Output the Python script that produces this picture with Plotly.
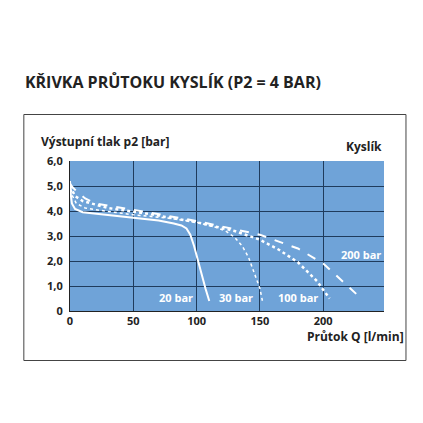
import plotly.graph_objects as go

q20 = [0, 0.5, 1.5, 4, 10, 30, 50, 70, 82, 88, 92, 95, 98, 101, 104, 107, 110]
p20 = [5.2, 4.7, 4.3, 4.08, 3.95, 3.85, 3.75, 3.62, 3.5, 3.42, 3.3, 3.05, 2.6, 2.0, 1.4, 0.9, 0.4]
q30 = [0, 2, 5, 12, 20, 50, 80, 100, 115, 123, 130, 136, 141, 146, 150, 152]
p30 = [5.1, 4.6, 4.3, 4.12, 4.05, 3.85, 3.7, 3.55, 3.35, 3.2, 2.95, 2.6, 2.15, 1.5, 0.9, 0.4]
q100 = [0, 4, 10, 30, 60, 100, 130, 150, 165, 180, 195, 205]
p100 = [5.0, 4.6, 4.4, 4.12, 3.9, 3.55, 3.2, 2.85, 2.45, 1.95, 1.2, 0.5]
q200 = [0, 2, 5, 12, 20, 50, 100, 150, 180, 200, 215, 230]
p200 = [5.1, 4.95, 4.8, 4.5, 4.3, 4.05, 3.6, 3.05, 2.5, 1.9, 1.2, 0.5]
labels = ["20 bar", "30 bar", "100 bar", "200 bar"]
label_x = [84, 131, 180, 230]
label_y = [0.55, 0.55, 0.55, 2.25]

fig = go.Figure()
for q, p, d, w in [(q20, p20, "solid", 2), (q30, p30, "dot", 1.5),
                   (q100, p100, "dot", 2.5), (q200, p200, "dash", 2)]:
    fig.add_trace(go.Scatter(x=q, y=p, mode="lines", line=dict(color="white", width=w, dash=d)))
for t, x, y in zip(labels, label_x, label_y):
    fig.add_annotation(x=x, y=y, text="<b>"+t+"</b>", showarrow=False, font=dict(color="white", size=11))

fig.add_annotation(xref="paper", yref="paper", x=-0.1, y=1.2, xanchor="left", text="<b>Výstupní tlak p2 [bar]</b>", showarrow=False, font=dict(size=12, color="#222"))
fig.add_annotation(xref="paper", yref="paper", x=1.0, y=1.17, xanchor="right", text="<b>Kyslík</b>", showarrow=False, font=dict(size=12, color="#222"))
fig.add_annotation(xref="paper", yref="paper", x=1.07, y=-0.24, xanchor="right", text="<b>Průtok Q [l/min]</b>", showarrow=False, font=dict(size=12, color="#222"))
fig.add_shape(type="rect", xref="paper", yref="paper", x0=-0.147, x1=1.07, y0=-0.33, y1=1.31, line=dict(color="#444", width=1))

tf = dict(size=11, color="#222", family="Open Sans", weight="bold")
fig.update_layout(
    width=423, height=423, showlegend=False,
    paper_bgcolor="white", plot_bgcolor="#6fa3d8",
    margin=dict(l=62, r=47, t=153, b=120),
    font=dict(family="Open Sans", color="#222"),
    title=dict(text="<b>KŘIVKA PRŮTOKU KYSLÍK (P2 = 4 BAR)</b>", x=0.04, xanchor="left", y=0.825, yanchor="middle", font=dict(size=16, color="#222")),
    xaxis=dict(range=[0, 248], tickvals=[0, 50, 100, 150, 200, 250], ticktext=["0", "50", "100", "150", "200", "250"],
               showgrid=True, gridcolor="#1f3b5c", gridwidth=1, zeroline=False, showline=True, linecolor="#222",
               tickfont=tf, ticks=""),
    yaxis=dict(range=[0, 6], tickvals=[0, 1, 2, 3, 4, 5, 6], ticktext=["0", "1,0", "2,0", "3,0", "4,0", "5,0", "6,0"],
               showgrid=True, gridcolor="#1f3b5c", gridwidth=1, zeroline=False, showline=True, linecolor="#222",
               tickfont=tf, ticks="", ticklabelstandoff=4),
)
fig.write_html("out.html")
